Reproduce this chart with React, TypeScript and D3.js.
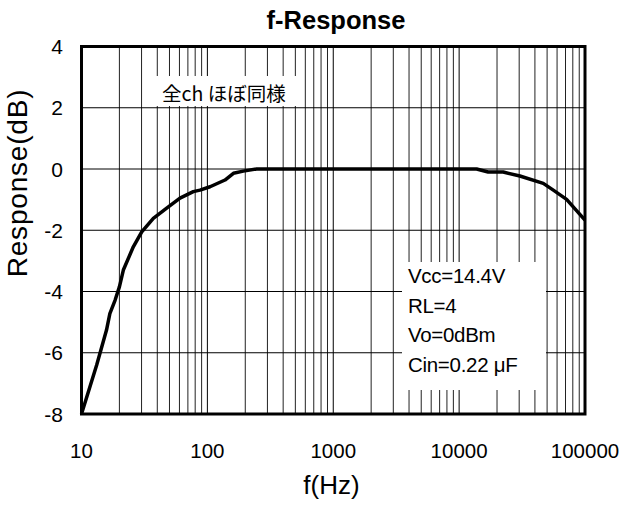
import React from "react";
import * as d3 from "d3";

const freqs = [10, 13.2, 15.8, 16.8, 18.5, 20.0, 21.5, 25.8, 30.1, 37.2, 47.5, 60.6, 77.3, 87.3, 105, 138, 161, 193, 246, 1000, 13770, 17000, 22400, 30400, 46600, 56000, 71400, 100000];
const resp = [-8, -6.4, -5.26, -4.72, -4.28, -3.85, -3.3, -2.54, -2.05, -1.61, -1.28, -0.95, -0.74, -0.69, -0.58, -0.36, -0.14, -0.07, 0, 0, 0, -0.1, -0.1, -0.23, -0.47, -0.69, -0.99, -1.67];
const xTickLabels = [10, 100, 1000, 10000, 100000];
const yTickLabels = [4, 2, 0, -2, -4, -6, -8];
const noteLines = ["Vcc=14.4V", "RL=4", "Vo=0dBm", "Cin=0.22 μF"];
const noteTop = "全ch ほぼ同様";

const W = 626, H = 509;
const L = 81.5, R = 585, T = 46.5, B = 414;
const font = "'Liberation Sans', Arial, 'Noto Sans CJK JP', sans-serif";

export default function App() {
  const x = d3.scaleLog().domain([10, 100000]).range([L, R]);
  const y = d3.scaleLinear().domain([-8, 4]).range([B, T]);
  const minor: number[] = [];
  for (let d = 10; d < 100000; d *= 10) for (let k = 2; k <= 9; k++) minor.push(d * k);
  const majors = [100, 1000, 10000];
  const hGrid = [2, 0, -2, -4, -6];
  const pts = freqs.map((f, i) => [f, resp[i]] as [number, number]);
  const line = d3.line<[number, number]>().x(d => x(d[0])).y(d => y(d[1]));
  return (
    <div style={{ position: "absolute", left: 0, top: 0 }}>
      <svg width={W} height={H} style={{ display: "block", background: "#fff" }}>
        <rect x={0} y={0} width={W} height={H} fill="#fff" />
        {minor.map(v => (
          <line key={"v" + v} x1={x(v)} x2={x(v)} y1={T} y2={B} stroke="#222" strokeWidth={1} />
        ))}
        {majors.map(v => (
          <line key={"m" + v} x1={x(v)} x2={x(v)} y1={T} y2={B} stroke="#000" strokeWidth={1} />
        ))}
        {hGrid.map(v => (
          <line key={"h" + v} x1={L} x2={R} y1={y(v)} y2={y(v)} stroke="#000" strokeWidth={1} />
        ))}
        <rect x={155} y={76} width={148} height={30} fill="#fff" />
        <text x={162} y={101} fontSize={19.5} fontFamily="'Noto Sans CJK JP', 'Liberation Sans', sans-serif" fill="#000">{noteTop}</text>
        <rect x={402} y={262} width={144} height={128} fill="#fff" />
        {noteLines.map((s, i) => (
          <text key={s} x={408} y={283 + i * 29.7} fontSize={20.5} fontFamily={font} fill="#000" letterSpacing={-0.3}>{s}</text>
        ))}
        <path d={line(pts) || ""} fill="none" stroke="#000" strokeWidth={3.5} strokeLinejoin="round" />
        <rect x={L} y={T} width={R - L} height={B - T} fill="none" stroke="#000" strokeWidth={3} />
        {yTickLabels.map(v => (
          <text key={"yl" + v} x={63} y={y(v)} dy="0.36em" textAnchor="end" fontSize={21} fontFamily={font} fill="#000">{v}</text>
        ))}
        {xTickLabels.map(v => (
          <text key={"xl" + v} x={x(v)} y={458} textAnchor="middle" fontSize={20.5} fontFamily={font} fill="#000">{v}</text>
        ))}
        <text x={336} y={29} textAnchor="middle" fontSize={25.5} fontWeight="bold" fontFamily={font} fill="#000">f-Response</text>
        <text x={331.5} y={494} textAnchor="middle" fontSize={26} fontFamily={font} fill="#000">f(Hz)</text>
        <text transform={`translate(27,183) rotate(-90)`} textAnchor="middle" fontSize={28} letterSpacing={0.8} fontFamily={font} fill="#000">Response(dB)</text>
      </svg>
    </div>
  );
}
